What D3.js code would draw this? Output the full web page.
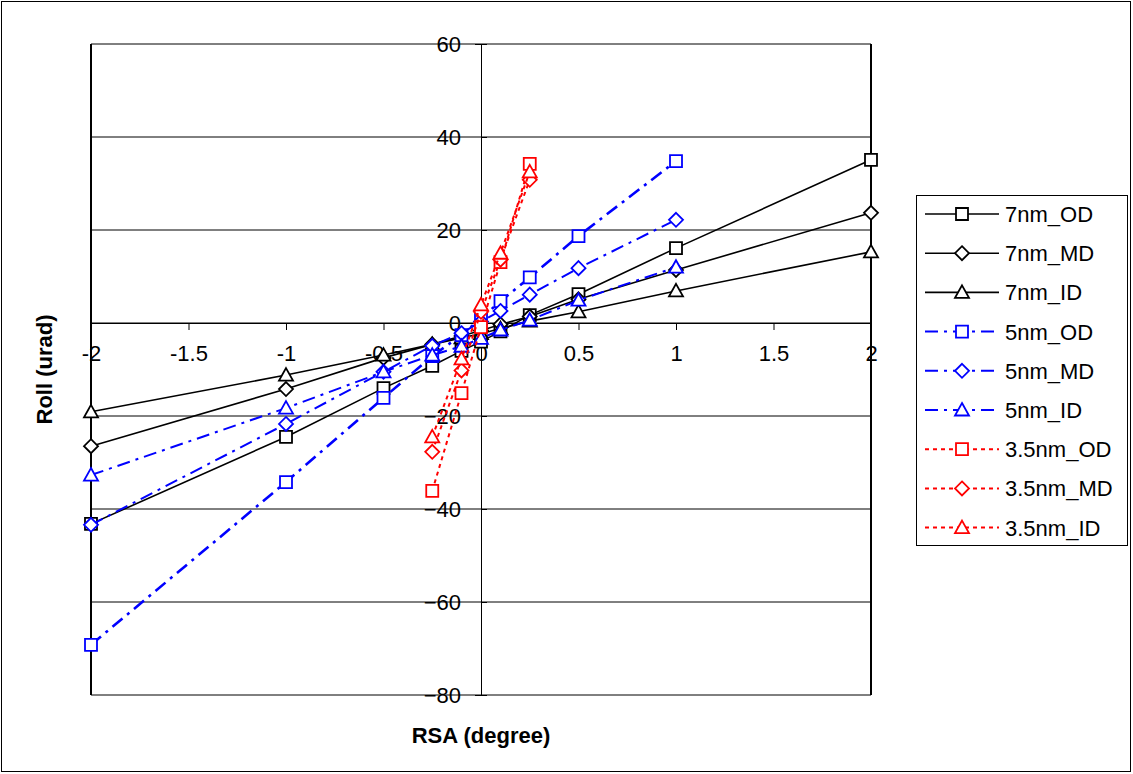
<!DOCTYPE html>
<html>
<head>
<meta charset="utf-8">
<script src="https://cdn.jsdelivr.net/npm/d3@7"></script>
<style>
  body { margin: 0; background: #fff; }
  svg { font-family: "Liberation Sans", Arial, sans-serif; }
</style>
</head>
<body>
<div id="chart"></div>
<script>
// RSA values (degree) for each thickness
var x7 = [-2, -1, -0.5, -0.25, -0.1, 0, 0.1, 0.25, 0.5, 1, 2];
var x5 = [-2, -1, -0.5, -0.25, -0.1, 0, 0.1, 0.25, 0.5, 1];
var x35 = [-0.25, -0.1, 0, 0.1, 0.25];

// Roll (urad)
var od7 = [-43.2, -24.5, -14, -9.2, -6, -4, -1.8, 1.7, 6.2, 16.1, 35.1];
var md7 = [-26.5, -14.2, -7.5, -4.6, -2.8, -1.6, -0.3, 1.4, 5.1, 11.4, 23.7];
var id7 = [-19.1, -11.2, -6.9, -4.6, -3.2, -2.3, -1.2, 0.4, 2.4, 6.9, 15.3];

var od5 = [-69.2, -34.2, -16.1, -7.1, -2.6, 1.0, 4.7, 9.8, 18.7, 34.8];
var md5 = [-43.4, -21.7, -10.5, -4.9, -2.2, 0.3, 2.6, 6.1, 11.8, 22.2];
var id5 = [-32.7, -18.3, -10.5, -6.9, -5.0, -3.3, -1.5, 0.6, 4.9, 12.0];

var od35 = [-36.1, -15.1, -0.9, 13.1, 34.2];
var md35 = [-27.7, -10.2, 2.4, 13.6, 30.8];
var id35 = [-24.5, -7.7, 3.9, 15.0, 32.5];

var xTicks = [-2, -1.5, -1, -0.5, 0, 0.5, 1, 1.5, 2];
var yTicks = [-80, -60, -40, -20, 0, 20, 40, 60];

var series = [
  {name: "7nm_OD", xs: x7, ys: od7, color: "#000", dash: null, width: 1.6, shape: "square"},
  {name: "7nm_MD", xs: x7, ys: md7, color: "#000", dash: null, width: 1.6, shape: "diamond"},
  {name: "7nm_ID", xs: x7, ys: id7, color: "#000", dash: null, width: 1.6, shape: "triangle"},
  {name: "5nm_OD", xs: x5, ys: od5, color: "#0000ff", dash: "13,6,3,6", width: 2.6, shape: "square"},
  {name: "5nm_MD", xs: x5, ys: md5, color: "#0000ff", dash: "13,6,3,6", width: 2, shape: "diamond"},
  {name: "5nm_ID", xs: x5, ys: id5, color: "#0000ff", dash: "13,6,3,6", width: 2, shape: "triangle"},
  {name: "3.5nm_OD", xs: x35, ys: od35, color: "#ff0000", dash: "4,4", width: 2, shape: "square"},
  {name: "3.5nm_MD", xs: x35, ys: md35, color: "#ff0000", dash: "4,4", width: 2, shape: "diamond"},
  {name: "3.5nm_ID", xs: x35, ys: id35, color: "#ff0000", dash: "4,4", width: 2, shape: "triangle"}
];

var W = 1133, H = 774;
var svg = d3.select("#chart").append("svg").attr("width", W).attr("height", H);

svg.append("rect")
  .attr("x", 1.5).attr("y", 1.5).attr("width", W - 4).attr("height", H - 4)
  .attr("fill", "#fff").attr("stroke", "#000").attr("stroke-width", 1);

var x = d3.scaleLinear().domain([-2, 2]).range([91, 871]);
var y = d3.scaleLinear().domain([-80, 60]).range([695, 44]);

// gridlines
svg.append("g").selectAll("line")
  .data(yTicks)
  .enter().append("line")
    .attr("x1", x(-2)).attr("x2", x(2))
    .attr("y1", function(d) { return y(d); })
    .attr("y2", function(d) { return y(d); })
    .attr("stroke", "#000").attr("stroke-width", 1);

// plot area sides
[-2, 2].forEach(function(v) {
  svg.append("line")
    .attr("x1", x(v)).attr("x2", x(v))
    .attr("y1", y(60)).attr("y2", y(-80))
    .attr("stroke", "#000").attr("stroke-width", 2);
});

// x axis through y = 0
var xAxis = svg.append("g")
  .attr("transform", "translate(0," + y(0) + ")")
  .call(d3.axisBottom(x).tickValues(xTicks).tickSize(7).tickPadding(15)
        .tickFormat(function(d) { return d; }));
xAxis.select(".domain").attr("stroke", "#000").attr("stroke-width", 1);
xAxis.selectAll("text").attr("font-size", 22).attr("fill", "#000")
  .style("font-family", "'Liberation Sans', Arial, sans-serif");

// y axis through x = 0
var yAxis = svg.append("g")
  .attr("transform", "translate(" + x(0) + ",0)")
  .call(d3.axisLeft(y).tickValues(yTicks).tickSize(6).tickPadding(14));
yAxis.select(".domain").attr("stroke", "#000").attr("stroke-width", 1);
yAxis.selectAll(".tick line").attr("x2", 6);
yAxis.selectAll("text").attr("font-size", 22).attr("fill", "#000")
  .style("font-family", "'Liberation Sans', Arial, sans-serif");

// markers
function markerPath(shape) {
  if (shape === "square") return "M-6,-6H6V6H-6Z";
  if (shape === "diamond") return "M0,-7L7,0L0,7L-7,0Z";
  return "M0,-7L7,5.5L-7,5.5Z";
}

var line = d3.line()
  .x(function(d) { return x(d[0]); })
  .y(function(d) { return y(d[1]); });

series.forEach(function(s) {
  var pts = s.xs.map(function(v, i) { return [v, s.ys[i]]; });
  svg.append("path")
    .datum(pts)
    .attr("d", line)
    .attr("fill", "none")
    .attr("stroke", s.color)
    .attr("stroke-width", s.width)
    .attr("stroke-dasharray", s.dash);
  svg.append("g").selectAll("path")
    .data(pts)
    .enter().append("path")
      .attr("d", markerPath(s.shape))
      .attr("transform", function(d) { return "translate(" + x(d[0]) + "," + y(d[1]) + ")"; })
      .attr("fill", "#fff")
      .attr("stroke", s.color)
      .attr("stroke-width", 1.8);
});

// axis titles
svg.append("text")
  .attr("transform", "translate(52," + ((y(60) + y(-80)) / 2) + ") rotate(-90)")
  .attr("text-anchor", "middle")
  .attr("font-size", 22).attr("font-weight", "bold")
  .text("Roll (urad)");

svg.append("text")
  .attr("x", x(0)).attr("y", 743)
  .attr("text-anchor", "middle")
  .attr("font-size", 22).attr("font-weight", "bold")
  .text("RSA (degree)");

// legend
var legend = svg.append("g");
legend.append("rect")
  .attr("x", 916.5).attr("y", 195.5).attr("width", 211).attr("height", 350)
  .attr("fill", "#fff").attr("stroke", "#000").attr("stroke-width", 1);

series.forEach(function(s, i) {
  var ly = 214 + i * 39.2;
  legend.append("line")
    .attr("x1", 925).attr("x2", 999).attr("y1", ly).attr("y2", ly)
    .attr("stroke", s.color)
    .attr("stroke-width", s.dash ? 2 : 1.6)
    .attr("stroke-dasharray", s.dash);
  legend.append("path")
    .attr("d", markerPath(s.shape))
    .attr("transform", "translate(962," + ly + ")")
    .attr("fill", "#fff").attr("stroke", s.color).attr("stroke-width", 1.8);
  legend.append("text")
    .attr("x", 1005).attr("y", ly + 8)
    .attr("font-size", 22)
    .text(s.name);
});
</script>
</body>
</html>
